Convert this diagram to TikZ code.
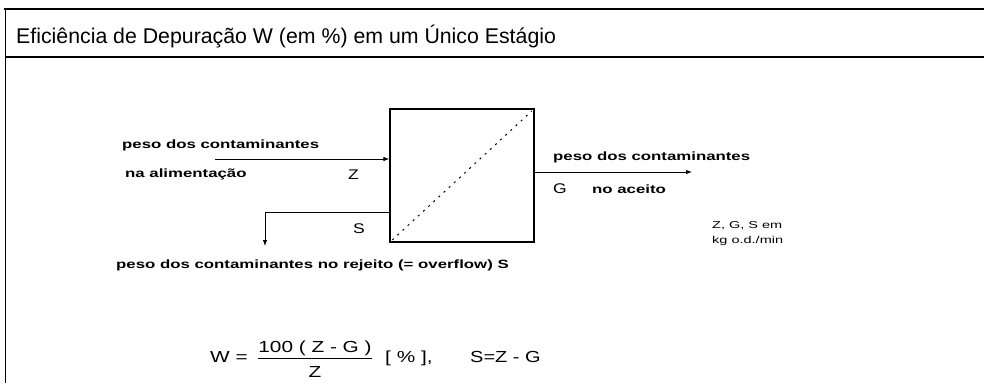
\documentclass[tikz,border=0pt]{standalone}
\usepackage{fontspec}
\setmainfont{Liberation Sans}
\usepackage{graphicx}
\usetikzlibrary{positioning,arrows.meta,calc}
\newcommand{\wide}[2][1.4]{\scalebox{#1}[1]{#2}}

\begin{document}
\begin{tikzpicture}[x=1pt,y=-1pt,
  frame/.style={line width=1.6pt},
  unit/.style={rectangle, draw, line width=1.3pt, minimum width=144pt, minimum height=133pt, inner sep=0pt},
  diag/.style={line width=1pt, dash pattern=on 2pt off 5pt, shorten <=4pt, shorten >=4pt},
  flow/.style={-{Latex[length=6pt,width=4.5pt]}, line width=0.9pt},
  lbl/.style={font=\fontsize{12}{14}\selectfont\bfseries, inner sep=0pt},
  sym/.style={font=\fontsize{14}{16}\selectfont, inner sep=0pt},
  note/.style={font=\fontsize{10}{12}\selectfont, inner sep=0pt},
  eq/.style={font=\fontsize{16}{18}\selectfont, inner sep=0pt},
  title/.style={font=\fontsize{21.3}{24}\selectfont, inner sep=0pt}]
  \useasboundingbox (0,0) rectangle (984,383);
  % frame and title
  \draw[frame] (4,9) -- (984,9);
  \draw[line width=1pt] (5,9) -- (5,383);
  \draw[frame] (5,57) -- (984,57);
  \node[title, anchor=base west] (title) at (16,43) {Eficiência de Depuração W (em \%) em um Único Estágio};
  % separator stage
  \node[unit] (sep) at (462,175.5) {};
  \draw[diag] (sep.south west) -- (sep.north east);
  % feed Z
  \coordinate (zin) at (215,159);
  \draw[flow] (zin) -- (zin -| sep.west);
  \node[lbl, anchor=base west] (feedA) at (122,148) {\wide{peso dos contaminantes}};
  \node[lbl, anchor=base west] (feedB) at (125,177) {\wide{na alimentação}};
  \node[sym, anchor=base west] (zlab) at (348,179) {\wide[1.25]{Z}};
  % accept G
  \coordinate (gout) at (692,172);
  \draw[flow] (gout -| sep.east) -- (gout);
  \node[lbl, anchor=base west] (accA) at (553,160) {\wide{peso dos contaminantes}};
  \node[sym, anchor=base west] (glab) at (553,193) {\wide[1.25]{G}};
  \node[lbl, anchor=base west] (accB) at (592,193) {\wide{no aceito}};
  \node[note, anchor=base west] (unitA) at (712,228) {\wide[1.45]{Z, G, S em}};
  \node[note, anchor=base west] (unitB) at (712,243) {\wide[1.45]{kg o.d./min}};
  % reject S
  \coordinate (sturn) at (265,212);
  \coordinate (sout) at (265,246);
  \draw[flow] (sturn -| sep.west) -- (sturn) -- (sout);
  \node[sym, anchor=base west] (slab) at (353,233) {\wide[1.25]{S}};
  \node[lbl, anchor=base west] (rej) at (116,268) {\wide{peso dos contaminantes no rejeito (= overflow) S}};
  % formula
  \node[eq, anchor=base west] (eqW) at (210,362) {\wide[1.3]{W =}};
  \node[eq, anchor=base] (eqnum) at (315,352) {\wide[1.3]{100 ( Z - G )}};
  \node[eq, anchor=base] (eqden) at (315,377) {\wide[1.3]{Z}};
  \draw[line width=0.8pt] ($(eqnum.south west)+(0,2.5)$) -- ($(eqnum.south east)+(0,2.5)$);
  \node[eq, anchor=base west] (eqpct) at (385,362) {\wide[1.3]{[ \% ],}};
  \node[eq, anchor=base west] (eqS) at (470,362) {\wide[1.25]{S=Z - G}};
\end{tikzpicture}
\end{document}
